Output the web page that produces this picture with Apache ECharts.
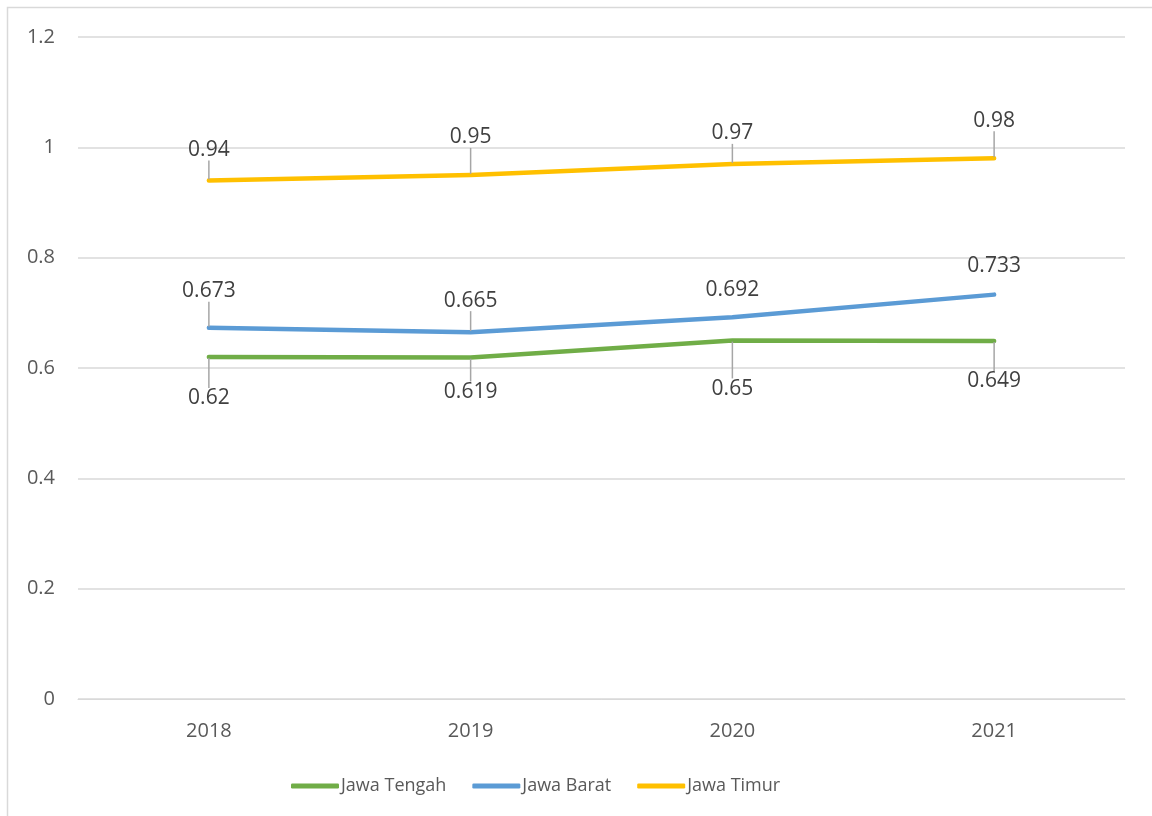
<!DOCTYPE html>
<html>
<head>
<meta charset="utf-8">
<script src="https://cdn.jsdelivr.net/npm/echarts@6/dist/echarts.min.js"></script>
<style>
  html, body { margin: 0; padding: 0; background: #ffffff; }
  #chart { width: 1152px; height: 816px; }
</style>
</head>
<body>
<div id="chart"></div>
<script>
// Years on the category axis
const years = ['2018', '2019', '2020', '2021'];

// Index values per province
const jawaTengah = [0.62, 0.619, 0.65, 0.649];
const jawaBarat = [0.673, 0.665, 0.692, 0.733];
const jawaTimur = [0.94, 0.95, 0.97, 0.98];

// Vertical nudge of each data label (px), so callouts sit clear of the lines
const tengahLabelShift = [25, 18, 32, 24];
const baratLabelShift = [-20, -15, -11, -12];
const timurLabelShift = [-14, -21, -14, -21];

// Whether each callout gets a leader line back to its point
const tengahLeader = [true, true, true, true];
const baratLeader = [true, true, false, false];
const timurLeader = [true, true, true, true];

const FONT = '"Open Sans", "Noto Sans", sans-serif';
const TEXT = '#595959';

function makeSeries(name, values, color, position, shifts, leaders) {
  return {
    name: name,
    type: 'line',
    data: values.map(function (v, i) {
      return { value: v, labelLine: { show: leaders[i] } };
    }),
    symbol: 'circle',
    symbolSize: 2,
    showSymbol: true,
    smooth: false,
    lineStyle: { width: 4.5, color: color, cap: 'round', join: 'round' },
    itemStyle: { color: color },
    label: {
      show: true,
      position: position,
      distance: 5,
      color: '#404040',
      fontFamily: FONT,
      fontSize: 21
    },
    labelLine: {
      show: true,
      lineStyle: { color: '#a6a6a6', width: 1.5 }
    },
    labelLayout: function (p) {
      return { dy: shifts[p.dataIndex] };
    },
    emphasis: { disabled: true }
  };
}

const chart = echarts.init(document.getElementById('chart'), null, { renderer: 'canvas' });

chart.setOption({
  animation: false,
  backgroundColor: '#ffffff',
  graphic: [{
    type: 'rect',
    shape: { x: 7.5, y: 7.5, width: 1300, height: 1000 },
    style: { fill: 'none', stroke: '#d9d9d9', lineWidth: 1.5 },
    silent: true
  }],
  grid: { left: 78, right: 27, top: 37, bottom: 117, containLabel: false },
  legend: {
    left: 286,
    top: 772,
    icon: 'roundRect',
    itemWidth: 48,
    itemHeight: 5,
    itemGap: 26,
    textStyle: { color: TEXT, fontFamily: FONT, fontSize: 18, padding: [0, 0, 0, -3] },
    data: ['Jawa Tengah', 'Jawa Barat', 'Jawa Timur']
  },
  xAxis: {
    type: 'category',
    data: years,
    boundaryGap: true,
    axisLine: { show: true, lineStyle: { color: '#d9d9d9', width: 1 } },
    axisTick: { show: false },
    axisLabel: { color: TEXT, fontFamily: FONT, fontSize: 20, margin: 22 }
  },
  yAxis: {
    type: 'value',
    min: 0,
    max: 1.2,
    interval: 0.2,
    axisLine: { show: false },
    axisTick: { show: false },
    axisLabel: {
      color: TEXT, fontFamily: FONT, fontSize: 20, margin: 23,
      formatter: function (v) { return String(Math.round(v * 10) / 10); }
    },
    splitLine: { lineStyle: { color: '#d9d9d9', width: 1.5 } }
  },
  series: [
    makeSeries('Jawa Tengah', jawaTengah, '#70ad47', 'bottom', tengahLabelShift, tengahLeader),
    makeSeries('Jawa Barat', jawaBarat, '#5b9bd5', 'top', baratLabelShift, baratLeader),
    makeSeries('Jawa Timur', jawaTimur, '#ffc000', 'top', timurLabelShift, timurLeader)
  ]
});
</script>
</body>
</html>
